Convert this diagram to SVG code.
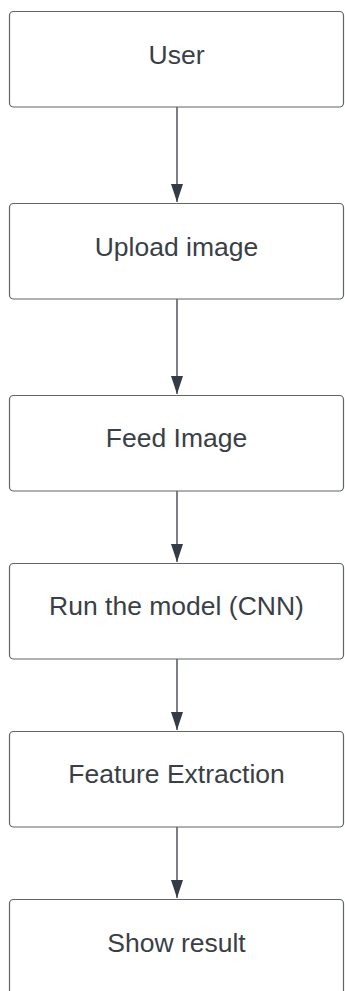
<svg xmlns="http://www.w3.org/2000/svg" width="345" height="991" viewBox="0 0 345 991">
<style>
.box{fill:#ffffff;stroke:#5f646b;stroke-width:1.2}
.lbl{font-family:"Liberation Sans",Arial,sans-serif;font-size:26.5px;fill:#3a3f47;text-anchor:middle}
.edge{stroke:#363c45;stroke-width:1.3;fill:none}
</style>
<defs>
<marker id="ah" markerUnits="userSpaceOnUse" markerWidth="18" markerHeight="12" viewBox="0 -6 18 12" refX="18" refY="0" orient="auto">
<path d="M0,-6 L18,0 L0,6 z" fill="#363c45"/>
</marker>
</defs>
<rect width="345" height="991" fill="#ffffff"/>
<g id="connectors">
<line class="edge" x1="177" y1="107" x2="177" y2="202" marker-end="url(#ah)"/>
<line class="edge" x1="177" y1="299" x2="177" y2="394" marker-end="url(#ah)"/>
<line class="edge" x1="177" y1="491" x2="177" y2="562" marker-end="url(#ah)"/>
<line class="edge" x1="177" y1="659" x2="177" y2="730" marker-end="url(#ah)"/>
<line class="edge" x1="177" y1="827" x2="177" y2="898" marker-end="url(#ah)"/>
</g>
<g id="n1"><rect class="box" x="9.5" y="11.5" width="334" height="95.5" rx="4"/><text class="lbl" x="176.5" y="64">User</text></g>
<g id="n2"><rect class="box" x="9.5" y="203.5" width="334" height="95.5" rx="4"/><text class="lbl" x="176.5" y="256">Upload image</text></g>
<g id="n3"><rect class="box" x="9.5" y="395.5" width="334" height="95.5" rx="4"/><text class="lbl" x="176.5" y="447">Feed Image</text></g>
<g id="n4"><rect class="box" x="9.5" y="563.5" width="334" height="95.5" rx="4"/><text class="lbl" x="176.5" y="615">Run the model (CNN)</text></g>
<g id="n5"><rect class="box" x="9.5" y="731.5" width="334" height="95.5" rx="4"/><text class="lbl" x="176.5" y="783">Feature Extraction</text></g>
<g id="n6"><rect class="box" x="9.5" y="899.5" width="334" height="95.5" rx="4"/><text class="lbl" x="176.5" y="952">Show result</text></g>
</svg>
